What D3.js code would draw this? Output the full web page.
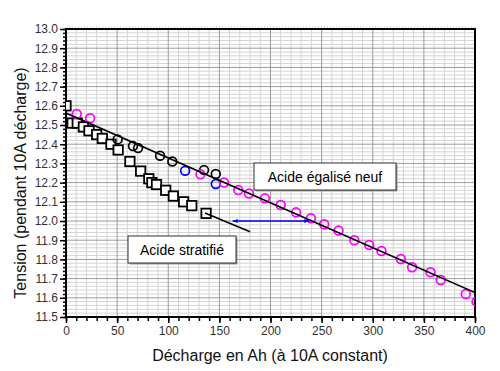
<!DOCTYPE html>
<html>
<head>
<meta charset="utf-8">
<script src="https://cdn.jsdelivr.net/npm/d3@7"></script>
<style>
  body { margin: 0; background: #fff; }
  svg { font-family: Arial, "Liberation Sans", sans-serif; }
</style>
</head>
<body>
<div id="view"></div>
<script>
// values: [Ah, volts]
var stratifie = [[0, 12.60], [6, 12.51], [11, 12.51], [17, 12.49], [22.5, 12.47], [30, 12.45],
  [35.5, 12.43], [44, 12.40], [51, 12.37], [62.5, 12.31], [73, 12.26], [81, 12.22],
  [84, 12.20], [88.5, 12.19], [97.5, 12.16], [105, 12.13], [115, 12.10], [123, 12.08], [137, 12.04]];
var neufNoir = [[50.5, 12.425], [65.5, 12.39], [70.5, 12.38], [92, 12.34], [104, 12.31], [135, 12.265], [146.5, 12.245]];
var neufBleu = [[116.5, 12.262], [146.5, 12.193]];
var neufRose = [[10.5, 12.557], [23.5, 12.535], [131.5, 12.243], [154.5, 12.20], [168.5, 12.161],
  [179, 12.143], [194.5, 12.118], [210, 12.083], [225, 12.045], [239.5, 12.014], [252.5, 11.983],
  [266.5, 11.95], [282, 11.90], [296.5, 11.875], [308.5, 11.844], [327.5, 11.802], [338.5, 11.759],
  [356.5, 11.733], [366.5, 11.693], [391, 11.62], [401.5, 11.58]];
var ligneNeuf = [[0, 12.562], [400, 11.627]];
var ligneStrat = [[136, 12.042], [180, 11.944]];
var fleche = [[163, 12.0], [238, 12.0]];
var xTicks = [0, 50, 100, 150, 200, 250, 300, 350, 400];
var yTicks = [11.5, 11.6, 11.7, 11.8, 11.9, 12.0, 12.1, 12.2, 12.3, 12.4, 12.5, 12.6, 12.7, 12.8, 12.9, 13.0];

var svg = d3.select("#view").append("svg")
  .attr("width", 500)
  .attr("height", 371);

var x = d3.scaleLinear().domain([0, 400]).range([66, 475]);
var y = d3.scaleLinear().domain([11.5, 13]).range([317, 29]);

svg.append("defs").append("clipPath").attr("id", "clip")
  .append("rect").attr("x", 66).attr("y", 29).attr("width", 409).attr("height", 288);
var mk = svg.select("defs").append("marker")
  .attr("id", "head").attr("viewBox", "0 0 10 10").attr("refX", 10).attr("refY", 5)
  .attr("markerWidth", 6).attr("markerHeight", 5).attr("orient", "auto-start-reverse")
  .attr("markerUnits", "userSpaceOnUse");
mk.append("path").attr("d", "M0,1 L10,5 L0,9 Z").attr("fill", "#0000ff");

// dotted frame above the plot
svg.append("line").attr("x1", 66).attr("x2", 475).attr("y1", 27).attr("y2", 27)
  .attr("stroke", "#bbb").attr("stroke-dasharray", "1,2");

// grid
var g = svg.append("g");
g.selectAll(".gxm").data(d3.range(0, 401, 10).filter(function(d){ return d % 50; }))
  .enter().append("line")
  .attr("x1", x).attr("x2", x).attr("y1", 29).attr("y2", 317)
  .attr("stroke", "#d4d4d4");
g.selectAll(".gym").data(d3.range(0, 76).map(function(i){ return 11.5 + i * 0.02; })
    .filter(function(d, i){ return i % 5; }))
  .enter().append("line")
  .attr("x1", 66).attr("x2", 475).attr("y1", y).attr("y2", y)
  .attr("stroke", "#d4d4d4");
g.selectAll(".gx").data(xTicks).enter().append("line")
  .attr("x1", x).attr("x2", x).attr("y1", 29).attr("y2", 317)
  .attr("stroke", "#9a9a9a");
g.selectAll(".gy").data(yTicks).enter().append("line")
  .attr("x1", 66).attr("x2", 475).attr("y1", y).attr("y2", y)
  .attr("stroke", "#9a9a9a");

// axes
var xAxis = d3.axisBottom(x).tickValues(xTicks).tickSize(6).tickPadding(3).tickFormat(d3.format("d"));
var xMinor = d3.axisBottom(x).tickValues(d3.range(0, 401, 10)).tickSize(4).tickFormat("");
var yAxis = d3.axisLeft(y).tickValues(yTicks).tickSize(6).tickPadding(2).tickFormat(d3.format(".1f"));
var yMinor = d3.axisLeft(y).tickValues(d3.range(0, 76).map(function(i){ return 11.5 + i * 0.02; })).tickSize(3).tickFormat("");

[xMinor, xAxis].forEach(function(a){
  svg.append("g").attr("class", "ax").attr("transform", "translate(0,317)").call(a);
});
[yMinor, yAxis].forEach(function(a){
  svg.append("g").attr("class", "ax").attr("transform", "translate(66,0)").call(a);
});
svg.selectAll(".ax .domain").remove();
svg.selectAll(".ax line").attr("stroke", "#000").attr("stroke-width", 1.5);
svg.selectAll(".ax text").attr("font-size", 12).attr("fill", "#333")
  .attr("font-family", "Arial, 'Liberation Sans', sans-serif");

svg.append("rect").attr("x", 66).attr("y", 29).attr("width", 409).attr("height", 288)
  .attr("fill", "none").attr("stroke", "#000").attr("stroke-width", 2);

var plot = svg.append("g").attr("clip-path", "url(#clip)");
var line = d3.line().x(function(d){ return x(d[0]); }).y(function(d){ return y(d[1]); });

// markers
plot.selectAll(".sq").data(stratifie).enter().append("rect")
  .attr("x", function(d){ return x(d[0]) - 4.7; })
  .attr("y", function(d){ return y(d[1]) - 4.7; })
  .attr("width", 9.4).attr("height", 9.4)
  .attr("fill", "#fff").attr("stroke", "#000").attr("stroke-width", 1.8);

function cercles(data, col){
  plot.selectAll(null).data(data).enter().append("circle")
    .attr("cx", function(d){ return x(d[0]); })
    .attr("cy", function(d){ return y(d[1]); })
    .attr("r", 4.4)
    .attr("fill", "none").attr("stroke", col).attr("stroke-width", 1.7);
}
cercles(neufNoir, "#000");
cercles(neufBleu, "#0000ff");
cercles(neufRose, "#ff00ff");

plot.append("path").datum(ligneNeuf).attr("d", line)
  .attr("fill", "none").attr("stroke", "#000").attr("stroke-width", 1.6);
plot.append("path").datum(ligneStrat).attr("d", line)
  .attr("fill", "none").attr("stroke", "#000").attr("stroke-width", 1.6);

// double arrow
svg.append("path").datum(fleche).attr("d", line)
  .attr("stroke", "#0000ff").attr("stroke-width", 1.3)
  .attr("marker-start", "url(#head)").attr("marker-end", "url(#head)");

// labels in boxes
function boite(x0, y0, w, h, txt){
  svg.append("rect").attr("x", x0 + 1.5).attr("y", y0 + 1.5).attr("width", w).attr("height", h)
    .attr("fill", "#999");
  svg.append("rect").attr("x", x0).attr("y", y0).attr("width", w).attr("height", h)
    .attr("fill", "#fff").attr("stroke", "#333").attr("stroke-width", 1);
  svg.append("text").attr("x", x0 + w / 2).attr("y", y0 + h / 2 + 5)
    .attr("text-anchor", "middle").attr("font-size", 14).attr("fill", "#000").text(txt);
}
boite(254, 163, 142, 27, "Acide égalisé neuf");
boite(128, 236, 108, 27, "Acide stratifié");

// titles
svg.append("text").attr("x", 270).attr("y", 361).attr("text-anchor", "middle")
  .attr("font-size", 16).attr("fill", "#111").text("Décharge en Ah (à 10A constant)");
svg.append("text").attr("transform", "translate(26,183) rotate(-90)").attr("text-anchor", "middle")
  .attr("font-size", 16).attr("fill", "#111").text("Tension (pendant 10A décharge)");
</script>
</body>
</html>
